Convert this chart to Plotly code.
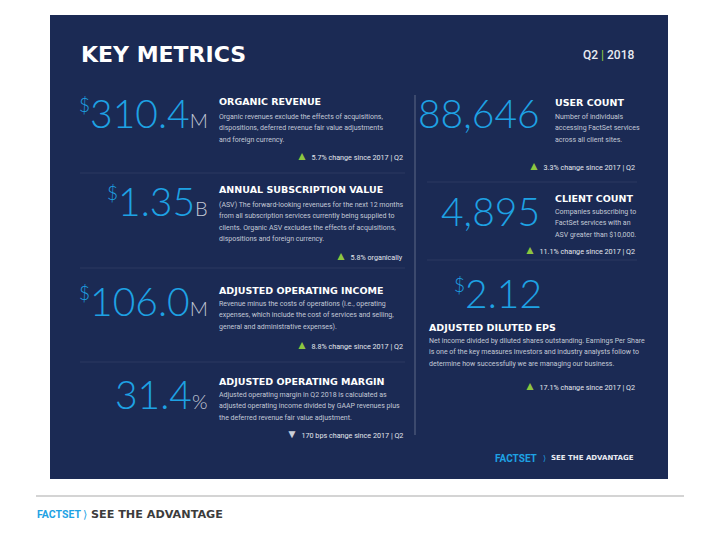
import plotly.graph_objects as go

# ---------------- data ----------------
left_titles = ["ORGANIC REVENUE", "ANNUAL SUBSCRIPTION VALUE",
               "ADJUSTED OPERATING INCOME", "ADJUSTED OPERATING MARGIN"]
left_values = [310.4, 1.35, 106.0, 31.4]
left_decimals = [1, 2, 1, 1]
left_prefix = ["$", "$", "$", ""]
left_suffix = ["M", "B", "M", "%"]
left_desc = [
    ["Organic revenues exclude the effects of acquisitions,",
     "dispositions, deferred revenue fair value adjustments",
     "and foreign currency."],
    ["(ASV) The forward-looking revenues for the next 12 months",
     "from all subscription services currently being supplied to",
     "clients. Organic ASV excludes the effects of acquisitions,",
     "dispositions and foreign currency."],
    ["Revenue minus the costs of operations (i.e., operating",
     "expenses, which include the cost of services and selling,",
     "general and administrative expenses)."],
    ["Adjusted operating margin in Q2 2018 is calculated as",
     "adjusted operating income divided by GAAP revenues plus",
     "the deferred revenue fair value adjustment."],
]
left_change = ["5.7% change since 2017 | Q2", "5.8% organically",
               "8.8% change since 2017 | Q2", "170 bps change since 2017 | Q2"]
left_direction = ["up", "up", "up", "down"]

right_titles = ["USER COUNT", "CLIENT COUNT", "ADJUSTED DILUTED EPS"]
right_values = [88646, 4895, 2.12]
right_decimals = [0, 0, 2]
right_prefix = ["", "", "$"]
right_desc = [
    ["Number of individuals", "accessing FactSet services", "across all client sites."],
    ["Companies subscribing to", "FactSet services with an", "ASV greater than $10,000."],
    ["Net income divided by diluted shares outstanding. Earnings Per Share",
     "is one of the key measures investors and industry analysts follow to",
     "determine how successfully we are managing our business."],
]
right_change = ["3.3% change since 2017 | Q2", "11.1% change since 2017 | Q2",
                "17.1% change since 2017 | Q2"]
right_direction = ["up", "up", "up"]

header_title = "KEY METRICS"
header_period = ["Q2", "2018"]
brand = "FACTSET"
tagline = "SEE THE ADVANTAGE"

# ---------------- styles / layout ----------------
NAVY = "#1b2a54"
BLUE = "#1ea2e4"
GREEN = "#8cc63f"
DESC_C = "#c3c9d6"
SUFFIX_C = "#c3c9d6"
NUM_FONT = "Lato, Roboto, sans-serif"
TITLE_FONT = "DejaVu Sans, sans-serif"
DESC_FONT = "Roboto, Liberation Sans, sans-serif"
BRAND_FONT = "Roboto, sans-serif"

L_num_right = 210
L_num_y = [113, 201, 301, 394]
L_title_x = 217
L_title_y = [101, 189, 290, 381]
L_desc_y0 = [117, 205, 304, 395]
L_change_x = 405
L_change_y = [156, 256, 345, 434]
L_sep_y = [173, 268, 362]

R_num_right = [542, 542, 544]
R_num_y = [113, 211, 293]
R_title_x = [553, 553, 427]
R_title_y = [102, 198, 327]
R_desc_x = [553, 553, 427]
R_desc_y0 = [117, 212, 341]
R_change_x = 637
R_change_y = [166, 250, 386]
R_sep_y = [182, 260]

LINE_H = 11.3
NUM_SIZE = 39

fig = go.Figure()
fig.add_trace(go.Scatter(x=[0, 720], y=[0, 540], mode="markers",
                         marker=dict(opacity=0), hoverinfo="skip", showlegend=False))

shapes = []
shapes.append(dict(type="rect", x0=50, x1=668, y0=15, y1=479, xref="x", yref="y",
                   fillcolor=NAVY, line=dict(width=0), layer="below"))
for y in L_sep_y:
    shapes.append(dict(type="line", x0=80, x1=405, y0=y, y1=y, xref="x", yref="y",
                       line=dict(color="rgba(255,255,255,0.07)", width=1)))
for y in R_sep_y:
    shapes.append(dict(type="line", x0=427, x1=637, y0=y, y1=y, xref="x", yref="y",
                       line=dict(color="rgba(255,255,255,0.07)", width=1)))
shapes.append(dict(type="line", x0=415, x1=415, y0=95, y1=435, xref="x", yref="y",
                   line=dict(color="rgba(255,255,255,0.3)", width=1)))
shapes.append(dict(type="line", x0=36, x1=684, y0=496, y1=496, xref="x", yref="y",
                   line=dict(color="#d4d4d4", width=2)))

ann = []


def A(x, y, text, size, color, family, xanchor="left", yanchor="middle", weight=None):
    f = dict(size=size, color=color, family=family)
    if weight is not None:
        f["weight"] = weight
    ann.append(dict(x=x, y=y, xref="x", yref="y", text=text, showarrow=False,
                    xanchor=xanchor, yanchor=yanchor, font=f, align=xanchor))


def big_number(x, y, prefix, value, dec, suffix, size):
    s = f"{value:,.{dec}f}"
    t = ""
    if prefix:
        t += f"<sup><span style='font-size:{int(size*0.5)}px'>{prefix}</span></sup>"
    t += s
    if suffix:
        t += f"<span style='font-size:{int(size*0.52)}px;color:{SUFFIX_C}'>{suffix}</span>"
    A(x, y, t, size, BLUE, NUM_FONT, xanchor="right", weight=300)


def change_text(x, y, text, direction):
    tri = f"<span style='color:{GREEN};font-size:12px'>▲</span>" if direction == "up" else \
        "<span style='color:#c9ced8;font-size:12px'>▼</span>"
    A(x, y, f"{tri}  {text}", 7.2, "#e4e7ee", DESC_FONT, xanchor="right")


A(79, 54, header_title, 22, "white", TITLE_FONT, weight="bold")
A(637, 55, f"{header_period[0]} <span style='color:{GREEN}'>|</span> {header_period[1]}",
  12, "#e8ebf1", "Roboto, sans-serif", xanchor="right", weight=500)

for i in range(4):
    big_number(L_num_right, L_num_y[i], left_prefix[i], left_values[i],
               left_decimals[i], left_suffix[i], NUM_SIZE)
    A(L_title_x, L_title_y[i], left_titles[i], 9.5, "white", TITLE_FONT, weight="bold")
    for j, line in enumerate(left_desc[i]):
        A(L_title_x, L_desc_y0[i] + j * LINE_H, line, 7, DESC_C, DESC_FONT)
    change_text(L_change_x, L_change_y[i], left_change[i], left_direction[i])

for i in range(3):
    big_number(R_num_right[i], R_num_y[i], right_prefix[i], right_values[i],
               right_decimals[i], "", NUM_SIZE)
    A(R_title_x[i], R_title_y[i], right_titles[i], 9.5, "white", TITLE_FONT, weight="bold")
    for j, line in enumerate(right_desc[i]):
        A(R_desc_x[i], R_desc_y0[i] + j * LINE_H, line, 7, DESC_C, DESC_FONT)
    change_text(R_change_x, R_change_y[i], right_change[i], right_direction[i])

# in-panel footer
A(539, 458, f"<b>{brand}</b>", 10, BLUE, BRAND_FONT, xanchor="right")
A(541, 458, "⟩", 8, BLUE, "DejaVu Sans, sans-serif", xanchor="left")
A(636, 458, f"<b>{tagline}</b>", 7, "#e8ebf1", "DejaVu Sans, sans-serif", xanchor="right")
# page footer
A(35, 514, f"<b>{brand}</b>", 10.5, BLUE, BRAND_FONT, xanchor="left")
A(81, 514, "⟩", 11, BLUE, "DejaVu Sans, sans-serif", xanchor="left")
A(89, 514, f"<b>{tagline}</b>", 11.2, "#3c3c3c", "DejaVu Sans, sans-serif", xanchor="left")

fig.update_layout(
    width=720, height=540, margin=dict(l=0, r=0, t=0, b=0),
    paper_bgcolor="white", plot_bgcolor="white",
    xaxis=dict(range=[0, 720], visible=False, fixedrange=True),
    yaxis=dict(range=[540, 0], visible=False, fixedrange=True),
    shapes=shapes, annotations=ann, showlegend=False,
)
fig.write_html("out.html", config=dict(displayModeBar=False),
               post_script="document.body.style.margin='0';document.body.style.overflow='hidden';")
